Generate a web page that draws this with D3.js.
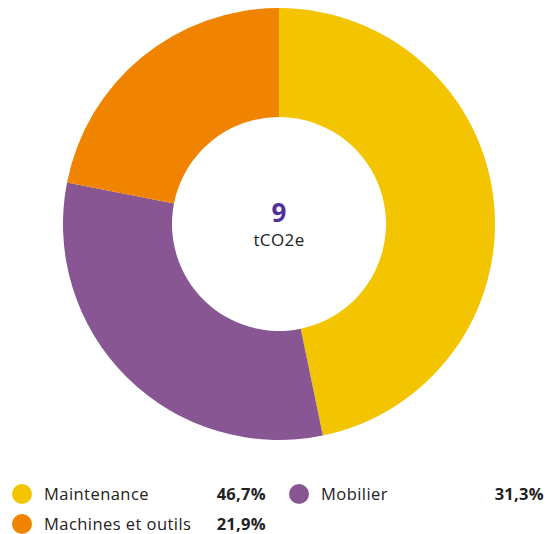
<!DOCTYPE html>
<html><head><meta charset="utf-8">
<script src="https://cdn.jsdelivr.net/npm/d3@7"></script>
<style>body{margin:0;background:#fff;}svg{display:block;font-family:"Open Sans","Noto Sans",sans-serif;}</style>
</head><body>
<svg id="c" width="547" height="534"></svg>
<script>
const categories = ["Maintenance", "Mobilier", "Machines et outils"];
const values = [46.7, 31.3, 21.9];
const labels = ["46,7%", "31,3%", "21,9%"];
const colors = ["#F2C500", "#875693", "#F08400"];
const total = "9";
const unit = "tCO2e";

const svg = d3.select("#c");
const cx = 279, cy = 224, R = 216, r = 107;
const pie = d3.pie().sort(null).value(d => d)(values);
const arc = d3.arc().innerRadius(r).outerRadius(R);
const g = svg.append("g").attr("transform", `translate(${cx},${cy})`);
g.selectAll("path").data(pie).join("path")
  .attr("d", arc).attr("fill", (d, i) => colors[i]);
g.append("text").attr("text-anchor", "middle").attr("y", -2)
  .attr("font-size", 26).attr("font-weight", 700).attr("fill", "#51309A").text(total);
g.append("text").attr("text-anchor", "middle").attr("y", 22)
  .attr("font-size", 17).attr("letter-spacing", 0.4).attr("fill", "#222").text(unit);

const pos = [
  {x: 22, y: 494, vx: 266},
  {x: 299, y: 494, vx: 544},
  {x: 22, y: 524, vx: 266}
];
const lg = svg.selectAll("g.leg").data(categories).join("g").attr("class", "leg");
lg.append("circle").attr("cx", (d, i) => pos[i].x).attr("cy", (d, i) => pos[i].y)
  .attr("r", 10).attr("fill", (d, i) => colors[i]);
lg.append("text").attr("x", (d, i) => pos[i].x + 22).attr("y", (d, i) => pos[i].y + 5.5)
  .attr("font-size", 16.5).attr("letter-spacing", 0.45).attr("fill", "#222").text(d => d);
lg.append("text").attr("x", (d, i) => pos[i].vx).attr("y", (d, i) => pos[i].y + 5.5)
  .attr("text-anchor", "end").attr("font-size", 16.5).attr("letter-spacing", 0.3).attr("font-weight", 700)
  .attr("fill", "#222").text((d, i) => labels[i]);
</script>
</body></html>
